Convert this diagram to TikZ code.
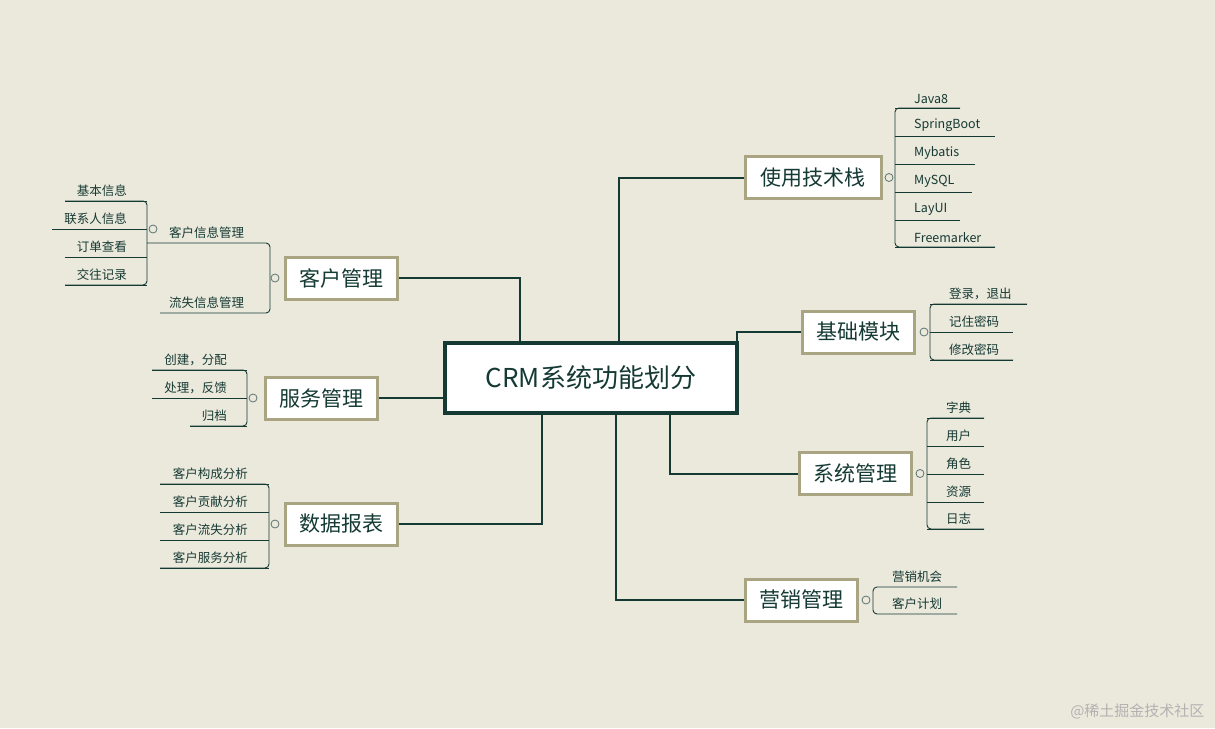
\documentclass[tikz,border=0pt]{standalone}
\usepackage{fontspec}
\setmainfont{Noto Sans CJK SC}
\usetikzlibrary{positioning}
\definecolor{bg}{HTML}{EBE8DC}
\definecolor{ink}{HTML}{153A33}
\definecolor{khaki}{HTML}{A9A582}
\tikzset{>=latex, line width=1.0pt}
\tikzset{
  topic/.style={draw=khaki,line width=3pt,fill=white,minimum width=112pt,minimum height=42pt,font=\fontsize{21}{23}\selectfont,text=ink},
  leaf/.style={anchor=south west,inner xsep=2pt,inner ysep=4pt,font=\fontsize{12.5}{14}\selectfont,text=ink},
  link/.style={draw=ink,line width=2pt},
  twig/.style={draw=ink,line width=0.9pt,rounded corners=4pt},
  knob/.style={circle,draw=ink!70,fill=bg,line width=0.8pt,inner sep=0pt,minimum size=8pt}
}
\begin{document}
\begin{tikzpicture}[x=1pt,y=-1pt]
  \fill[bg] (0,0) rectangle (1215,728);
  \useasboundingbox (0,0) rectangle (1215,728);

  % root
  \node[draw=ink,line width=4pt,fill=white,minimum width=292pt,minimum height=70pt,font=\fontsize{26}{28}\selectfont,text=ink] (crm) at (591,377.5) {CRM系统功能划分};

  % topics
  \node[topic,minimum width=136pt] (tech) at (813,177.5) {使用技术栈};
  \node[topic] (base) at (858.5,332) {基础模块};
  \node[topic] (sys) at (855,473.5) {系统管理};
  \node[topic] (mkt) at (801,600) {营销管理};
  \node[topic] (cust) at (341,278) {客户管理};
  \node[topic] (svc) at (321,398) {服务管理};
  \node[topic] (rep) at (341,524) {数据报表};

  % links
  \draw[link] ([xshift=-71pt]crm.north) |- (cust.east);
  \draw[link] (svc.east) -- (svc.east -| crm.west);
  \draw[link] ([xshift=-49pt]crm.south) |- (rep.east);
  \draw[link] ([xshift=28pt]crm.north) |- (tech.west);
  \draw[link] ([xshift=146pt]crm.north) |- (base.west);
  \draw[link] ([xshift=79pt]crm.south) |- (sys.west);
  \draw[link] ([xshift=25pt]crm.south) |- (mkt.west);

  % technology stack
  \draw[twig] (960,108) -- (895,108) -- (895,247) -- (995,247);
  \foreach \t/\y/\e [count=\i] in {Java8/108/960,SpringBoot/136/995,Mybatis/164/975,MySQL/192/972,LayUI/220/960,Freemarker/247/995}{
    \node[leaf] (tech-\i) at (912,\y) {\t};
    \draw[twig] (895,\y) -- (\e,\y);
  }
  \node[knob] (k-tech) at (889,177.5) {};

  % basic module
  \draw[twig] (1027,304) -- (930,304) -- (930,360) -- (1013,360);
  \foreach \t/\y/\e [count=\i] in {登录，退出/304/1027,记住密码/332/1013,修改密码/360/1013}{
    \node[leaf] (base-\i) at (947,\y) {\t};
    \draw[twig] (930,\y) -- (\e,\y);
  }
  \node[knob] (k-base) at (924,332) {};

  % system
  \draw[twig] (984,418) -- (927,418) -- (927,529) -- (984,529);
  \foreach \t/\y [count=\i] in {字典/418,用户/446,角色/474,资源/502,日志/529}{
    \node[leaf] (sys-\i) at (944,\y) {\t};
    \draw[twig] (927,\y) -- (984,\y);
  }
  \node[knob] (k-sys) at (920,473.5) {};

  % marketing
  \draw[twig] (957,587) -- (873,587) -- (873,614) -- (957,614);
  \node[leaf] (mkt-1) at (890,587) {营销机会};
  \node[leaf] (mkt-2) at (890,614) {客户计划};
  \node[knob] (k-mkt) at (866,600) {};

  % customer
  \draw[twig] (147,243) -- (270,243) -- (270,313) -- (160,313);
  \node[leaf] (cust-1) at (167,243) {客户信息管理};
  \node[leaf] (cust-2) at (167,313) {流失信息管理};
  \node[knob] (k-cust) at (275,278) {};
  \draw[twig] (65,201) -- (147,201) -- (147,285) -- (65,285);
  \foreach \t/\y/\s [count=\i] in {基本信息/201/65,联系人信息/229/52,订单查看/257/65,交往记录/285/65}{
    \node[leaf,anchor=south east] (info-\i) at (129,\y) {\t};
    \draw[twig] (\s,\y) -- (147,\y);
  }
  \node[knob] (k-info) at (153,229) {};

  % service
  \draw[twig] (152,370) -- (247,370) -- (247,426) -- (190,426);
  \foreach \t/\y/\s [count=\i] in {创建，分配/370/152,处理，反馈/398/152,归档/426/190}{
    \node[leaf,anchor=south east] (svc-\i) at (229,\y) {\t};
    \draw[twig] (\s,\y) -- (247,\y);
  }
  \node[knob] (k-svc) at (253,398) {};

  % reports
  \draw[twig] (160,484) -- (269,484) -- (269,568) -- (160,568);
  \foreach \t/\y [count=\i] in {客户构成分析/484,客户贡献分析/512,客户流失分析/540,客户服务分析/568}{
    \node[leaf,anchor=south east] (rep-\i) at (250,\y) {\t};
    \draw[twig] (160,\y) -- (269,\y);
  }
  \node[knob] (k-rep) at (275,524) {};

  \node[font=\fontsize{15}{16}\selectfont,text=black!30,anchor=east] (mark) at (1208,711) {@稀土掘金技术社区};
\end{tikzpicture}
\end{document}
